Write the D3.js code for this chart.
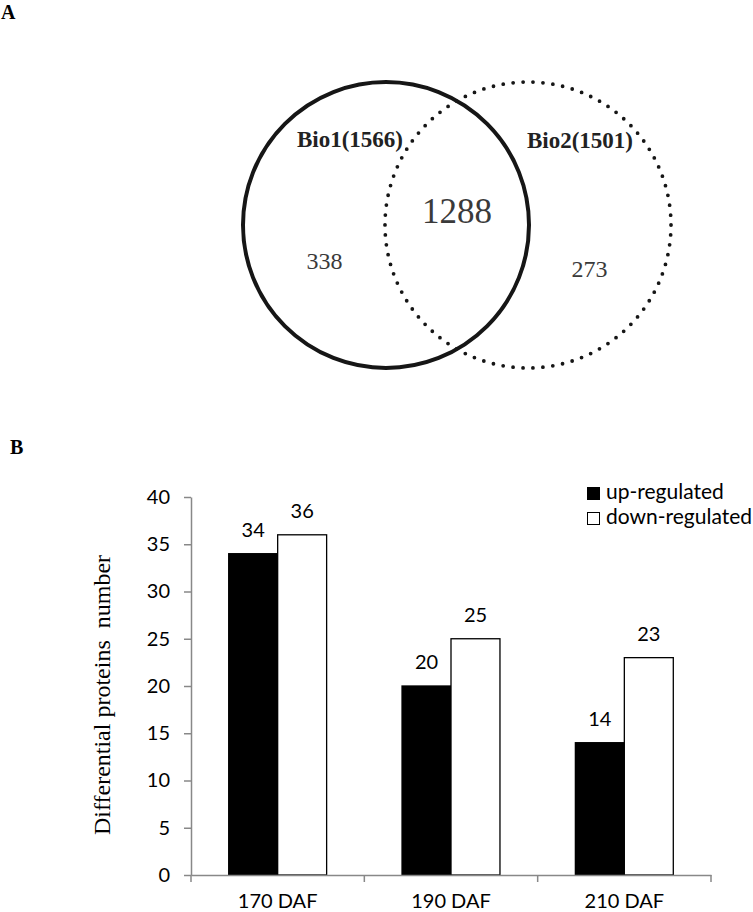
<!DOCTYPE html>
<html lang="en">
<head>
<meta charset="UTF-8">
<title>Venn and differential proteins</title>
<style>
  body { margin: 0; background: #fff; }
  svg { display: block; }
</style>
</head>
<body>
<svg width="753" height="912"></svg>
<script src="https://cdn.jsdelivr.net/npm/d3@7"></script>
<script>
// panel A: venn
const sets = ["Bio1(1566)", "Bio2(1501)"];
const vennCounts = [338, 1288, 273];   // Bio1 only, shared, Bio2 only

// panel B: bars
const categories = ["170 DAF", "190 DAF", "210 DAF"];
const series = ["up-regulated", "down-regulated"];
const upValues = [34, 20, 14];
const downValues = [36, 25, 23];
const yTicks = [0, 5, 10, 15, 20, 25, 30, 35, 40];

const svg = d3.select("svg");
const serif = "'Liberation Serif', 'Times New Roman', serif";
const sans = "Lato, 'Open Sans', sans-serif";

// ---------- A ----------
svg.append("text").attr("x", 1).attr("y", 19)
    .style("font", `bold 20px ${serif}`).text("A");

const cx = d3.scalePoint().domain(sets).range([386, 528]);
const cy = 225, r = 143;

const venn = svg.append("g");
venn.selectAll("circle")
  .data(sets)
  .join("circle")
    .attr("cx", d => cx(d))
    .attr("cy", cy)
    .attr("r", r)
    .attr("fill", "none")
    .attr("stroke", "#161616")
    .attr("stroke-width", (d, i) => i === 0 ? 4 : 3.8)
    .attr("stroke-linecap", "round")
    .attr("stroke-dasharray", (d, i) => i === 0 ? null : "0 9.98");

// set names
const nameOffset = [[-36, -78], [52, -77]];
venn.selectAll("text.name")
  .data(sets)
  .join("text")
    .attr("class", "name")
    .attr("x", (d, i) => cx(d) + nameOffset[i][0])
    .attr("y", (d, i) => cy + nameOffset[i][1])
    .attr("text-anchor", "middle")
    .style("font", `bold 23px ${serif}`)
    .attr("fill", "#222")
    .text(d => d);

// region counts
const mid = (cx(sets[0]) + cx(sets[1])) / 2;
const countPos = [
  {x: cx(sets[0]) - 61.5, y: cy + 44, size: 24},
  {x: mid, y: cy - 2, size: 35},
  {x: cx(sets[1]) + 61.5, y: cy + 52, size: 24}
];
venn.selectAll("text.count")
  .data(vennCounts)
  .join("text")
    .attr("class", "count")
    .attr("x", (d, i) => countPos[i].x)
    .attr("y", (d, i) => countPos[i].y)
    .attr("text-anchor", "middle")
    .style("font", (d, i) => `${countPos[i].size}px ${serif}`)
    .attr("fill", "#3a3a3a")
    .text(d => d);

// ---------- B ----------
svg.append("text").attr("x", 10).attr("y", 454)
    .style("font", `bold 20px ${serif}`).text("B");

const x = d3.scaleBand().domain(categories).range([191, 711]);
const xs = d3.scaleBand().domain(series).range([0, x.bandwidth()]).paddingOuter(0.77);
const y = d3.scaleLinear().domain([0, 40]).range([875, 497]);

const rows = categories.map((c, i) => ({cat: c, values: [upValues[i], downValues[i]]}));

// y axis
const yAxis = svg.append("g")
    .attr("transform", `translate(${x.range()[0]},0)`)
    .call(d3.axisLeft(y).tickValues(yTicks).tickSize(7).tickSizeOuter(0).tickPadding(14));
yAxis.select(".domain").attr("stroke", "#888").attr("stroke-width", 1.5);
yAxis.selectAll(".tick line").attr("stroke", "#888").attr("stroke-width", 1.5);
yAxis.selectAll(".tick text").style("font", `20px ${sans}`).attr("fill", "#000");

// bars
const groups = svg.append("g").selectAll("g")
  .data(rows)
  .join("g")
    .attr("transform", d => `translate(${x(d.cat)},0)`);

groups.selectAll("rect")
  .data(d => d.values.map((v, i) => ({key: series[i], value: v})))
  .join("rect")
    .attr("x", d => xs(d.key))
    .attr("y", d => y(d.value))
    .attr("width", xs.bandwidth())
    .attr("height", d => y(0) - y(d.value))
    .attr("fill", d => d.key === series[0] ? "#000" : "#fff")
    .attr("stroke", "#000")
    .attr("stroke-width", 1.3);

groups.selectAll("text")
  .data(d => d.values.map((v, i) => ({key: series[i], value: v})))
  .join("text")
    .attr("x", d => xs(d.key) + xs.bandwidth() / 2)
    .attr("y", d => y(d.value) - 17)
    .attr("text-anchor", "middle")
    .style("font", `20px ${sans}`)
    .text(d => d.value);

// x axis: line, boundary ticks, centered labels
const xAxis = svg.append("g")
    .attr("transform", `translate(0,${y(0)})`)
    .call(d3.axisBottom(x).tickSize(0).tickPadding(19));
xAxis.select(".domain").attr("stroke", "#888").attr("stroke-width", 1.5);
xAxis.selectAll(".tick text").style("font", `20px ${sans}`).attr("fill", "#000");
const bounds = categories.map(c => x(c)).concat([x.range()[1]]);
xAxis.selectAll("line.bound")
  .data(bounds)
  .join("line")
    .attr("class", "bound")
    .attr("x1", d => d).attr("x2", d => d)
    .attr("y1", 0).attr("y2", 7)
    .attr("stroke", "#888")
    .attr("stroke-width", 1.5);

// y label
svg.append("text")
    .attr("transform", `translate(110,${(y(0) + y(40)) / 2 + 9}) rotate(-90)`)
    .attr("text-anchor", "middle")
    .style("font", `24px ${serif}`)
    .style("white-space", "pre")
    .text("Differential proteins  number");

// legend
const legend = svg.append("g").selectAll("g")
  .data(series)
  .join("g")
    .attr("transform", (d, i) => `translate(587,${487 + i * 25})`);
legend.append("rect")
    .attr("x", 0.5).attr("y", 0.5)
    .attr("width", 12).attr("height", 12)
    .attr("fill", (d, i) => i === 0 ? "#000" : "#fff")
    .attr("stroke", "#000")
    .attr("stroke-width", 1);
legend.append("text")
    .attr("x", 19).attr("y", 11.5)
    .style("font", `21px ${sans}`)
    .text(d => d);
</script>
</body>
</html>
